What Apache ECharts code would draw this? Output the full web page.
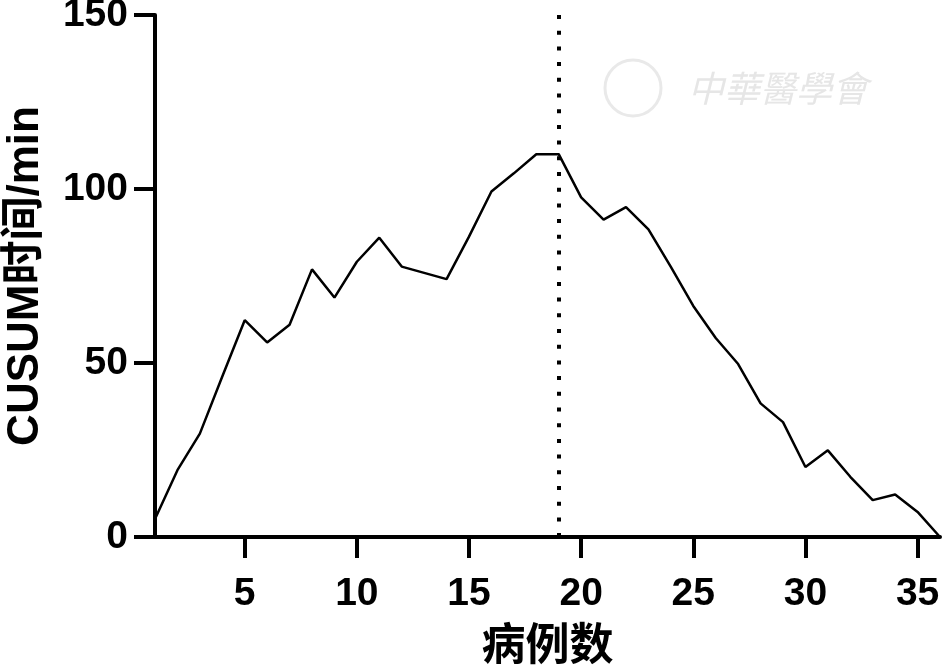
<!DOCTYPE html>
<html>
<head>
<meta charset="utf-8">
<script src="https://cdn.jsdelivr.net/npm/echarts@6/dist/echarts.min.js"></script>
<style>
html,body{margin:0;padding:0;background:#fff;}
#chart{width:945px;height:671px;}
</style>
</head>
<body>
<div id="chart"></div>
<script>
// Case numbers (x) and CUSUM time values (y)
const caseNumbers = [1,2,3,4,5,6,7,8,9,10,11,12,13,14,15,16,17,18,19,20,21,22,23,24,25,26,27,28,29,30,31,32,33,34,35,36];
const cusumValues = [5.2,19.2,29.7,46.1,62.3,55.9,61.0,76.9,68.8,79.1,86.0,77.7,75.9,74.1,86.3,99.3,104.5,110.0,110.0,97.6,91.2,94.8,88.4,77.6,66.4,57.2,49.7,38.4,33.0,20.1,24.9,17.3,10.6,12.2,7.2,0];
const xTickValues = [5,10,15,20,25,30,35];
const yTickValues = [0,50,100,150];
const cutoffCase = 19;
const xAxisTitle = '病例数';
const yAxisTitle = 'CUSUM时间/min';
const watermarkText = '中華醫學會';

const FONT = "'Liberation Sans', Arial, 'Noto Sans CJK SC', sans-serif";
const chart = echarts.init(document.getElementById('chart'), null, {renderer: 'canvas'});
const seriesData = caseNumbers.map((c, i) => [c, cusumValues[i]]);

chart.setOption({
  animation: false,
  backgroundColor: '#fff',
  grid: {left: 155, right: 5, top: 15, bottom: 134, containLabel: false, outerBoundsMode: 'none'},
  graphic: [
    {type: 'circle', shape: {cx: 633, cy: 88, r: 28}, style: {fill: 'none', stroke: '#e9e9e9', lineWidth: 3}, silent: true, z: -1},
    {type: 'text', left: 688, top: 70, style: {text: watermarkText, fill: '#e6e6e6', font: 'italic 36px "Noto Sans CJK TC", sans-serif'}, silent: true, z: -1}
  ],
  xAxis: {
    type: 'value', min: 1, max: 36,
    axisLine: {show: true, onZero: false, lineStyle: {color: '#000', width: 4}},
    axisTick: {show: true, customValues: xTickValues, length: 21, lineStyle: {color: '#000', width: 4}},
    axisLabel: {customValues: xTickValues, margin: 38, color: '#000', fontSize: 39, fontWeight: 'bold', fontFamily: FONT},
    splitLine: {show: false},
    name: xAxisTitle, nameLocation: 'middle', nameGap: 89,
    nameTextStyle: {color: '#000', fontSize: 44, fontWeight: 'bold', fontFamily: FONT}
  },
  yAxis: {
    type: 'value', min: 0, max: 150,
    axisLine: {show: true, lineStyle: {color: '#000', width: 4}},
    axisTick: {show: true, customValues: yTickValues, length: 21, lineStyle: {color: '#000', width: 4}},
    axisLabel: {customValues: yTickValues, margin: 27, color: '#000', fontSize: 39, fontWeight: 'bold', fontFamily: FONT},
    splitLine: {show: false},
    name: yAxisTitle, nameLocation: 'middle', nameGap: 107, nameRotate: 90,
    nameTextStyle: {color: '#000', fontSize: 44, fontWeight: 'bold', fontFamily: FONT}
  },
  series: [{
    type: 'line',
    data: seriesData,
    showSymbol: false,
    symbol: 'none',
    lineStyle: {color: '#000', width: 2.5},
    markLine: {
      silent: true, symbol: ['none', 'none'], label: {show: false},
      lineStyle: {color: '#000', width: 4, type: [4, 11.7], cap: 'butt'},
      data: [[{coord: [cutoffCase, 150]}, {coord: [cutoffCase, 0]}]]
    }
  }]
});
</script>
</body>
</html>
